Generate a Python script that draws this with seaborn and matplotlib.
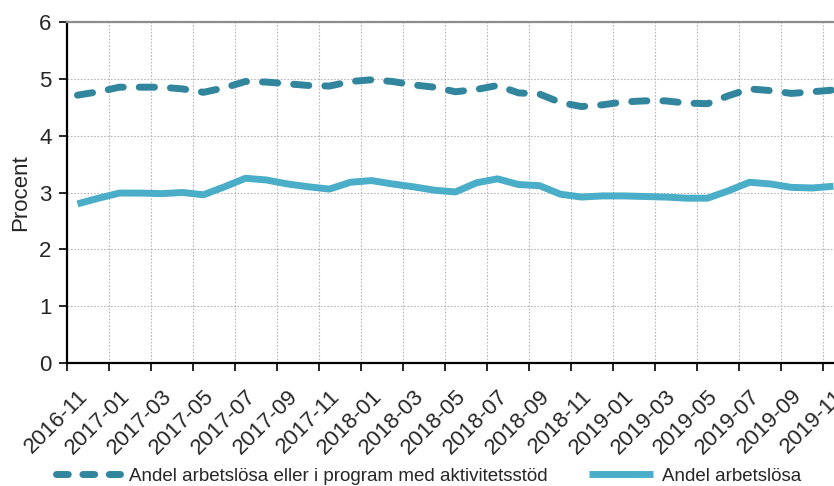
import numpy as np
import pandas as pd
import seaborn as sns
import matplotlib.pyplot as plt

# Monthly categories and values (percent)
months = pd.period_range("2016-11", "2019-11", freq="M").strftime("%Y-%m").tolist()
arbetslosa_program = [4.71, 4.77, 4.85, 4.85, 4.85, 4.82, 4.76, 4.84, 4.95, 4.94,
                      4.91, 4.88, 4.87, 4.95, 4.98, 4.95, 4.89, 4.85, 4.77, 4.81,
                      4.88, 4.75, 4.73, 4.58, 4.51, 4.54, 4.59, 4.61, 4.61, 4.57,
                      4.56, 4.70, 4.82, 4.79, 4.74, 4.77, 4.80]
arbetslosa = [2.80, 2.90, 2.99, 2.99, 2.98, 3.00, 2.96, 3.10, 3.25, 3.22,
              3.15, 3.10, 3.06, 3.18, 3.21, 3.15, 3.10, 3.04, 3.01, 3.17,
              3.24, 3.14, 3.12, 2.97, 2.92, 2.94, 2.94, 2.93, 2.92, 2.90,
              2.90, 3.03, 3.18, 3.15, 3.09, 3.08, 3.11]
label_program = "Andel arbetslösa eller i program med aktivitetsstöd"
label_arbetslosa = "Andel arbetslösa"

df = pd.DataFrame({"month": months, "program": arbetslosa_program, "arbetslosa": arbetslosa})
df["pos"] = np.arange(len(df))

sns.set_style("white")
plt.rcParams['font.family'] = ['Liberation Sans', 'DejaVu Sans']

fig = plt.figure(figsize=(8.34, 4.86), dpi=100)
ax = fig.add_axes([0.0803, 0.2525, 0.9197, 0.7028])

sns.lineplot(data=df, x="pos", y="program", ax=ax, color="#31869E", lw=5.0,
             linestyle=(0, (2.2, 2.3)), dash_capstyle="round",
             label=label_program)
sns.lineplot(data=df, x="pos", y="arbetslosa", ax=ax, color="#4BAEC8", lw=5.0,
             solid_capstyle="butt", solid_joinstyle="round",
             label=label_arbetslosa)

ax.set_xlim(-0.5, len(df) - 1 + 0.025)
ax.set_ylim(0, 6)
ax.set_yticks(range(0, 7))

# labels at category centres, tick marks and grid at category edges
ax.set_xticks(df["pos"][::2])
ax.set_xticklabels(df["month"][::2], rotation=45, ha="right", rotation_mode="anchor", fontsize=16)
ax.set_xticks(np.arange(-0.5, len(df) - 1, 2), minor=True)
ax.tick_params(axis="x", which="major", length=0, pad=16)
ax.tick_params(axis="x", which="minor", length=6, width=1.2, color="black", direction="out", bottom=True)
ax.tick_params(axis="y", length=6, width=1.2, color="black", direction="out", left=True, labelsize=16, pad=5)

ax.grid(axis="y", which="major", linestyle=(0, (1.5, 1.5)), color="#b8b8b8", lw=0.8)
ax.grid(axis="x", which="minor", linestyle=(0, (1.5, 1.5)), color="#b8b8b8", lw=0.8)
ax.grid(axis="x", which="major", visible=False)

ax.set_xlabel("")
ax.set_ylabel("Procent", fontsize=16, labelpad=6)

for side in ["left", "bottom"]:
    ax.spines[side].set_color("black")
    ax.spines[side].set_linewidth(1.6)
ax.spines["top"].set_color("#8c8c8c")
ax.spines["top"].set_linewidth(1.6)
ax.spines["right"].set_visible(False)

leg = ax.legend(loc="center left", bbox_to_anchor=(56 / 834, 10 / 486), bbox_transform=fig.transFigure,
                ncol=2, frameon=False, fontsize=13.5, handlelength=3.4, handletextpad=0.5,
                columnspacing=2.2, borderpad=0, borderaxespad=0)
# three short dashes in the legend key, like the original
leg.get_lines()[0].set_linestyle((0, (1.7, 2.1)))

fig.savefig("out.png", dpi=100)
